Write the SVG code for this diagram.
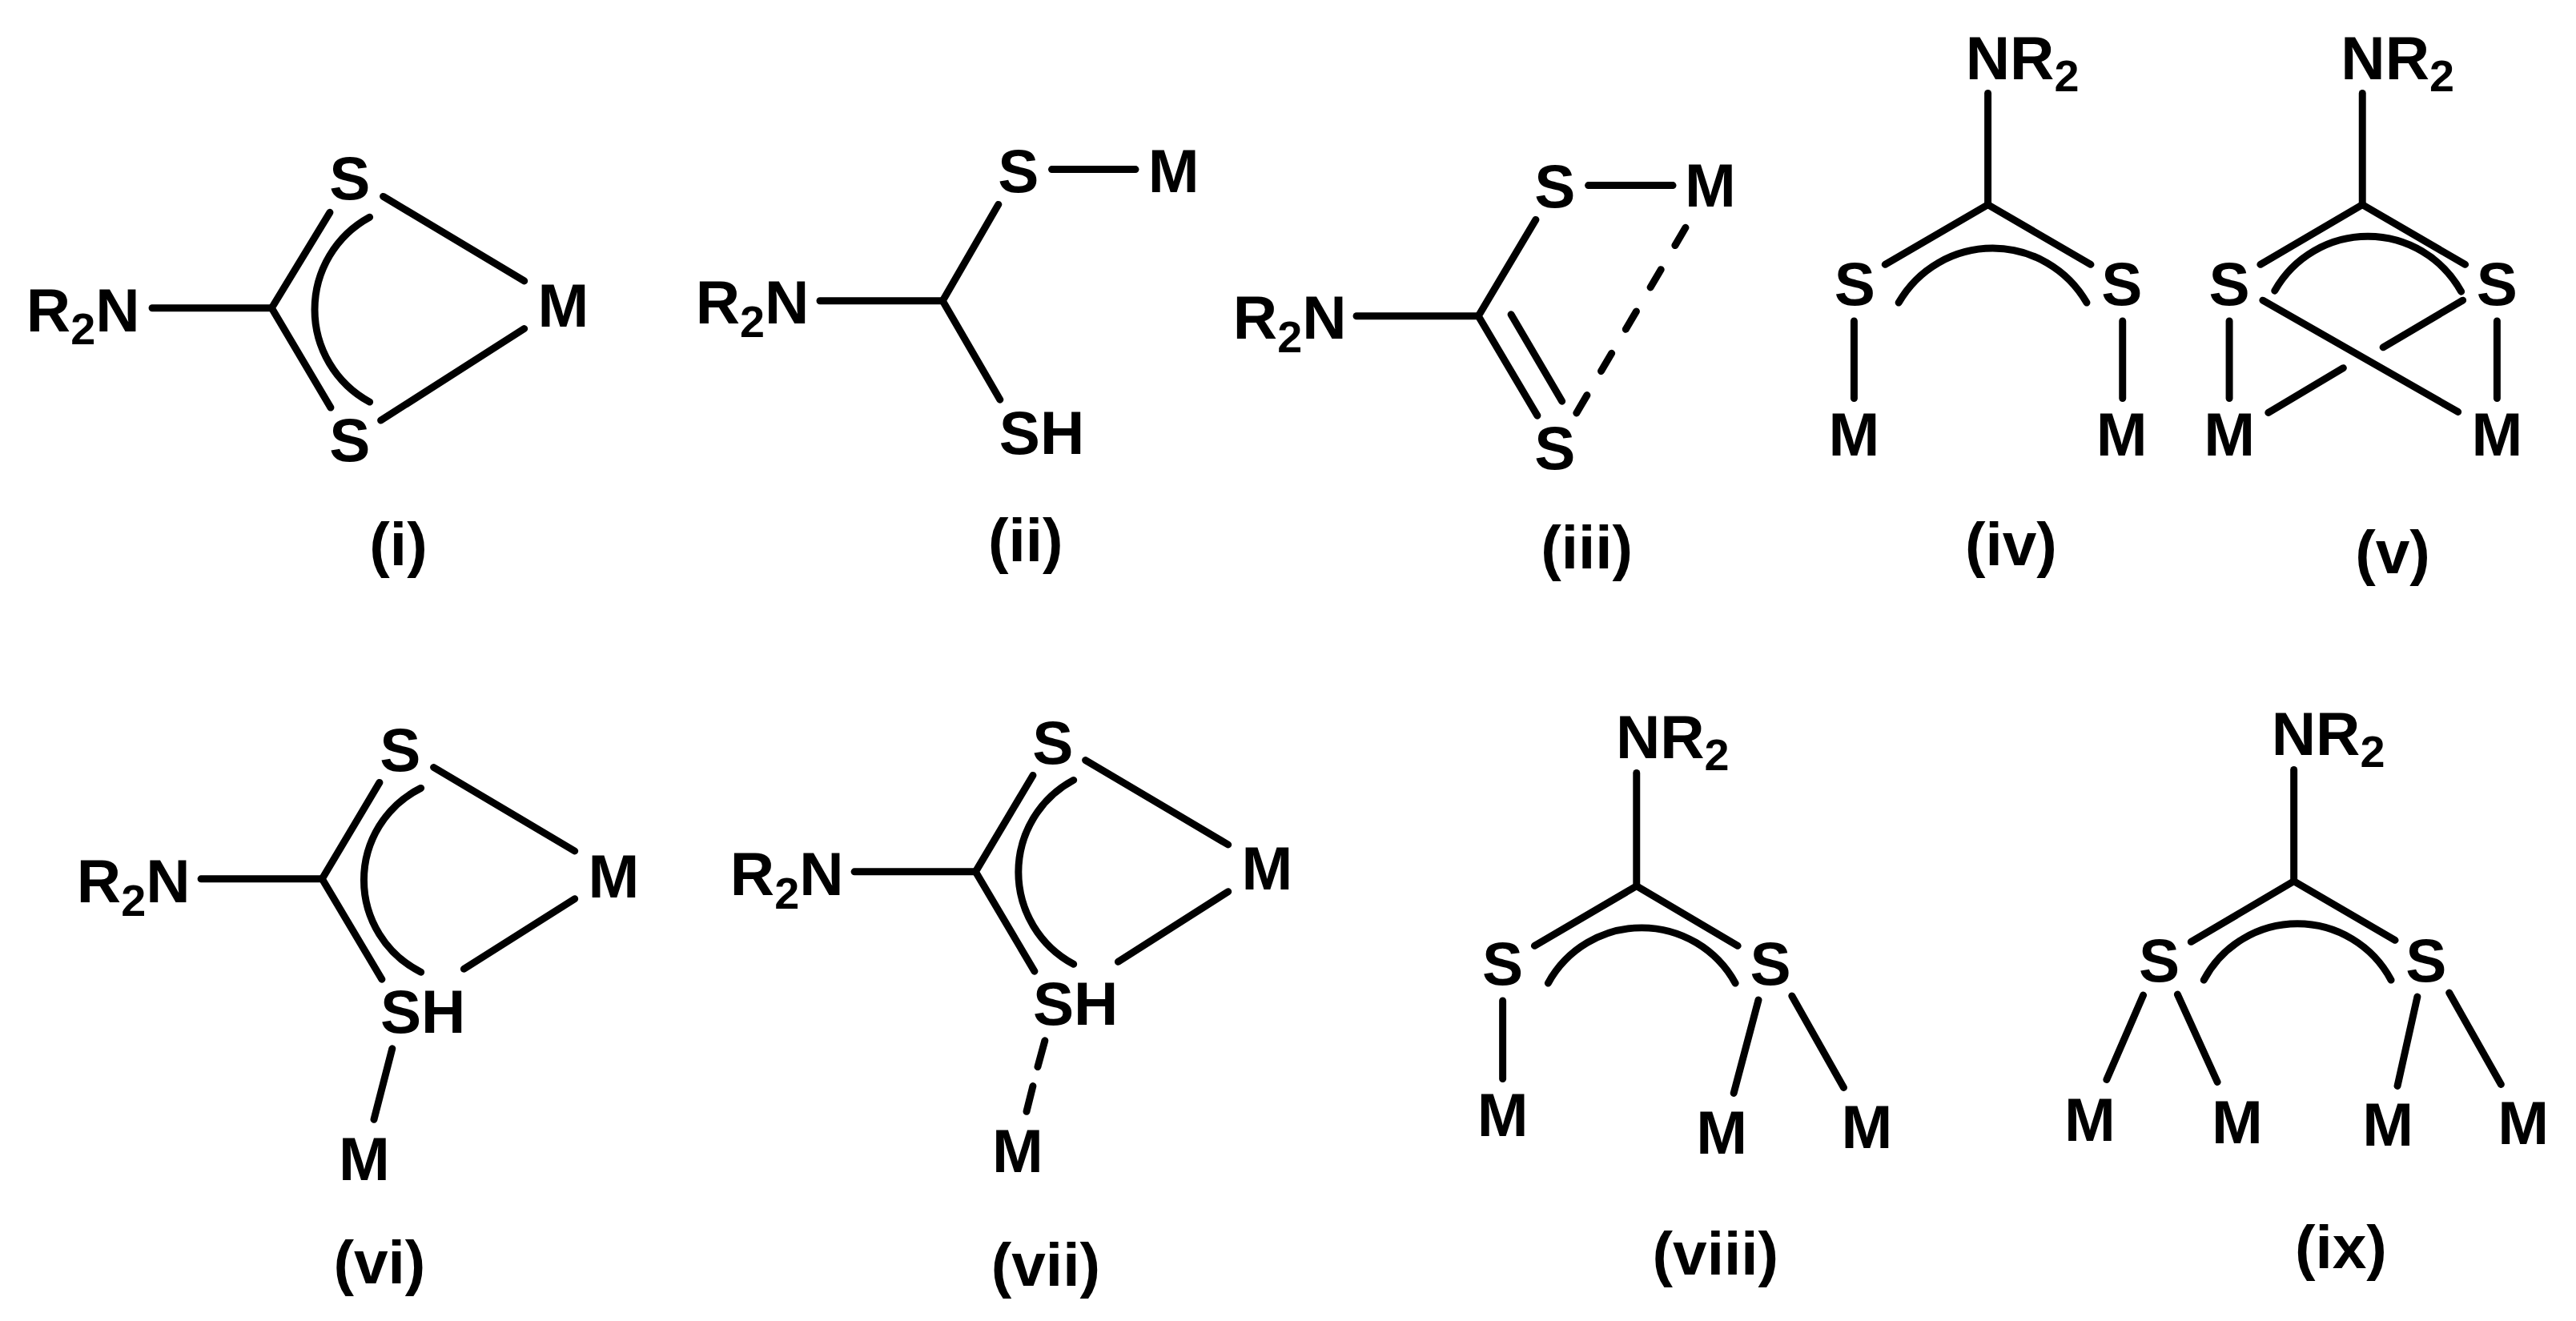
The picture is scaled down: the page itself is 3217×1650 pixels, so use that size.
<svg xmlns="http://www.w3.org/2000/svg" width="3217" height="1650" viewBox="0 0 3217 1650">
<style>
text{font-family:"Liberation Sans",Arial,sans-serif;font-weight:700;font-size:77px;fill:#000}
.c{text-anchor:middle}
.sub{font-size:56px}
#connectors line,#connectors path{stroke:#000;stroke-width:9;stroke-linecap:round;fill:none}
</style>
<rect width="3217" height="1650" fill="#fff"/>
<g id="connectors">
<g id="bonds-i" transform="matrix(.995 0 0 .995 0 .65)">
<line x1="191" y1="386" x2="341" y2="386"/><path d="M414 266L341 386L415 511"/>
<line x1="481" y1="246" x2="658" y2="352"/><line x1="478" y1="527" x2="658" y2="412"/>
<path d="M464 272A132 132 0 0 0 464 504"/>
</g>
<g id="bonds-ii" transform="matrix(.995 0 0 .995 4.1 .65)">
<line x1="1025" y1="377" x2="1179" y2="377"/><path d="M1249 256L1179 377L1251 501"/>
<line x1="1316" y1="212" x2="1421" y2="212"/>
</g>
<g id="bonds-iii" transform="matrix(.995 0 0 .995 7.5 .75)">
<line x1="1695" y1="396" x2="1848" y2="396"/><path d="M1920 275L1848 396L1922 521"/>
<line x1="1889" y1="394" x2="1953" y2="503"/>
<line x1="1986" y1="232" x2="2092" y2="232"/>
<line x1="2108" y1="285" x2="1971" y2="518" stroke-dasharray="26 35"/>
</g>
<g id="bonds-iv" transform="matrix(.995 0 0 .995 11 0)">
<line x1="2484" y1="117" x2="2484" y2="257"/><path d="M2355 332L2484 257L2613 332"/>
<path d="M2372 380A136 136 0 0 1 2608 380"/>
<line x1="2316" y1="403" x2="2316" y2="500"/><line x1="2653" y1="403" x2="2653" y2="500"/>
</g>
<g id="bonds-v" transform="matrix(.995 0 0 .995 11 0)">
<line x1="2954" y1="117" x2="2954" y2="257"/><path d="M2826 332L2954 257L3083 332"/>
<path d="M2844 365A134 134 0 0 1 3078 366"/>
<line x1="2787" y1="403" x2="2787" y2="500"/><line x1="3123" y1="403" x2="3123" y2="500"/>
<line x1="2829" y1="377" x2="3074" y2="517"/>
<line x1="3080" y1="377" x2="2980" y2="436"/><line x1="2930" y1="462" x2="2836" y2="518"/>
</g>
<g id="bonds-vi" transform="matrix(.995 0 0 .995 .3 4.3)">
<line x1="252" y1="1099" x2="404" y2="1099"/><path d="M476 978L404 1099L479 1225"/>
<path d="M528 985A129 129 0 0 0 528 1216"/>
<line x1="544" y1="959" x2="721" y2="1064"/><line x1="721" y1="1124" x2="582" y2="1212"/>
<line x1="492" y1="1312" x2="469" y2="1401"/>
</g>
<g id="bonds-vii" transform="matrix(.995 0 0 .995 4.4 4.3)">
<line x1="1068" y1="1090" x2="1220" y2="1090"/><path d="M1292 969L1220 1090L1294 1215"/>
<path d="M1343 975A131 131 0 0 0 1343 1206"/>
<line x1="1358" y1="950" x2="1537" y2="1056"/><line x1="1537" y1="1115" x2="1399" y2="1203"/>
<line x1="1307" y1="1302" x2="1298" y2="1335"/><line x1="1292" y1="1359" x2="1284" y2="1391"/>
</g>
<g id="bonds-viii" transform="matrix(.995 0 0 .995 9 4.25)">
<line x1="2045" y1="966" x2="2045" y2="1108"/><path d="M1917 1183L2045 1108L2172 1183"/>
<path d="M1934 1230A134 134 0 0 1 2169 1230"/>
<line x1="1877" y1="1252" x2="1877" y2="1350"/>
<line x1="2198" y1="1251" x2="2167" y2="1368"/><line x1="2240" y1="1246" x2="2305" y2="1361"/>
</g>
<g id="bonds-ix" transform="matrix(.995 0 0 .995 9 4.25)">
<line x1="2870" y1="962" x2="2870" y2="1102"/><path d="M2741 1178L2870 1102L2997 1176"/>
<path d="M2757 1226A133 133 0 0 1 2992 1226"/>
<line x1="2681" y1="1245" x2="2635" y2="1351"/><line x1="2724" y1="1244" x2="2774" y2="1354"/>
<line x1="3025" y1="1247" x2="3000" y2="1359"/><line x1="3065" y1="1242" x2="3130" y2="1357"/>
</g>
</g>
<g id="structure-i" transform="matrix(.995 0 0 .995 0 .65)">
<text x="33" y="415">R<tspan class="sub" dy="17">2</tspan><tspan dy="-17">N</tspan></text>
<text class="c" x="439" y="250">S</text><text class="c" x="439" y="578">S</text><text class="c" x="707" y="409">M</text>
<text class="c" x="500" y="709">(i)</text>
</g>
<g id="structure-ii" transform="matrix(.995 0 0 .995 4.1 .65)">
<text x="869" y="405">R<tspan class="sub" dy="17">2</tspan><tspan dy="-17">N</tspan></text>
<text class="c" x="1274" y="241">S</text><text class="c" x="1469" y="241">M</text><text x="1250" y="569">SH</text>
<text class="c" x="1283" y="704">(ii)</text>
</g>
<g id="structure-iii" transform="matrix(.995 0 0 .995 7.5 .75)">
<text x="1540" y="424">R<tspan class="sub" dy="17">2</tspan><tspan dy="-17">N</tspan></text>
<text class="c" x="1944" y="260">S</text><text class="c" x="2139" y="259">M</text><text class="c" x="1944" y="588">S</text>
<text class="c" x="1984" y="713">(iii)</text>
</g>
<g id="structure-iv" transform="matrix(.995 0 0 .995 11 0)">
<text x="2456" y="99">NR<tspan class="sub" dy="16">2</tspan></text>
<text class="c" x="2317" y="383">S</text><text class="c" x="2652" y="383">S</text>
<text class="c" x="2316" y="572">M</text><text class="c" x="2652" y="572">M</text>
<text class="c" x="2513" y="710">(iv)</text>
</g>
<g id="structure-v" transform="matrix(.995 0 0 .995 11 0)">
<text x="2927" y="99">NR<tspan class="sub" dy="16">2</tspan></text>
<text class="c" x="2787" y="383">S</text><text class="c" x="3123" y="383">S</text>
<text class="c" x="2787" y="572">M</text><text class="c" x="3123" y="572">M</text>
<text class="c" x="2992" y="720">(v)</text>
</g>
<g id="structure-vi" transform="matrix(.995 0 0 .995 .3 4.3)">
<text x="96" y="1128">R<tspan class="sub" dy="17">2</tspan><tspan dy="-17">N</tspan></text>
<text class="c" x="502" y="964">S</text><text x="477" y="1292">SH</text>
<text class="c" x="770" y="1122">M</text><text class="c" x="457" y="1477">M</text>
<text class="c" x="476" y="1607">(vi)</text>
</g>
<g id="structure-vii" transform="matrix(.995 0 0 .995 4.4 4.3)">
<text x="912" y="1119">R<tspan class="sub" dy="17">2</tspan><tspan dy="-17">N</tspan></text>
<text class="c" x="1317" y="954">S</text><text x="1292" y="1282">SH</text>
<text class="c" x="1586" y="1112">M</text><text class="c" x="1273" y="1467">M</text>
<text class="c" x="1308" y="1610">(vii)</text>
</g>
<g id="structure-viii" transform="matrix(.995 0 0 .995 9 4.25)">
<text x="2019" y="947">NR<tspan class="sub" dy="16">2</tspan></text>
<text class="c" x="1877" y="1232">S</text><text class="c" x="2213" y="1232">S</text>
<text class="c" x="1877" y="1422">M</text><text class="c" x="2152" y="1444">M</text><text class="c" x="2334" y="1437">M</text>
<text class="c" x="2144" y="1596">(viii)</text>
</g>
<g id="structure-ix" transform="matrix(.995 0 0 .995 9 4.25)">
<text x="2842" y="943">NR<tspan class="sub" dy="16">2</tspan></text>
<text class="c" x="2701" y="1228">S</text><text class="c" x="3036" y="1228">S</text>
<text class="c" x="2614" y="1428">M</text><text class="c" x="2799" y="1431">M</text><text class="c" x="2988" y="1434">M</text><text class="c" x="3158" y="1432">M</text>
<text class="c" x="2929" y="1588">(ix)</text>
</g>
</svg>
